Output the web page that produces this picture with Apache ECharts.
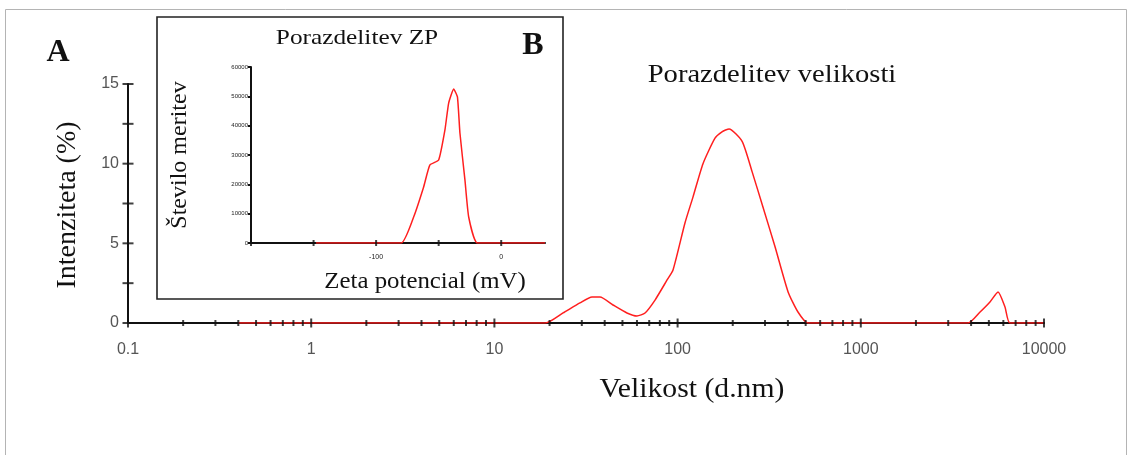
<!DOCTYPE html>
<html>
<head>
<meta charset="utf-8">
<script src="https://cdn.jsdelivr.net/npm/echarts@6/dist/echarts.min.js"></script>
<style>
  html, body { margin: 0; padding: 0; background: #ffffff; }
  #chart { width: 1132px; height: 455px; }
</style>
</head>
<body>
<div id="chart"></div>
<script>
// ---- Main chart (A): size distribution ----
const sizeNm = [0.4, 19, 23.7, 29.3, 34.1, 37.7, 44.4, 52.9, 60.0, 66.4, 75.3, 87.6, 94.4, 109.7, 121.3, 137.6, 160, 174.7, 191, 225, 255, 292, 340, 401, 454, 515, 3846, 4477, 5070, 5610, 6125, 6520, 10000];
const intensity = [0, 0, 0.63, 1.26, 1.63, 1.63, 1.13, 0.63, 0.44, 0.63, 1.44, 2.7, 3.33, 6.28, 7.9, 10.0, 11.6, 12.0, 12.18, 11.4, 9.5, 7.3, 4.8, 1.95, 0.69, 0, 0, 0.69, 1.32, 1.95, 1.0, 0, 0];
const mainXMajorTicks = [0.1, 1, 10, 100, 1000, 10000];
const mainXMinorTicks = [0.2, 0.3, 0.4, 0.5, 0.6, 0.7, 0.8, 0.9,
  2, 3, 4, 5, 6, 7, 8, 9,
  20, 30, 40, 50, 60, 70, 80, 90,
  200, 300, 400, 500, 600, 700, 800, 900,
  2000, 3000, 4000, 5000, 6000, 7000, 8000, 9000];
const mainYTicks = [0, 2.5, 5, 7.5, 10, 12.5, 15];

// ---- Inset chart (B): zeta potential distribution ----
const zetaMv = [-148, -80, -70, -62, -57, -50, -45, -42, -38, -35, -33, -29, -26, -19, 35];
const counts = [0, 0, 8860, 19100, 26600, 28300, 38500, 47700, 52500, 49800, 37500, 21500, 8860, 0, 0];
const insetXTicks = [-200, -150, -100, -50, 0];
const insetXLabels = [-100, 0];

const RED = '#ff1f1f';
const SERIF = '"Liberation Serif", "Times New Roman", serif';
const SANS = '"Liberation Sans", Arial, sans-serif';

function txt(text, x, y, size, opts) {
  opts = opts || {};
  return {
    type: 'text', x: x, y: y, z: 20,
    rotation: opts.rotation || 0,
    scaleX: opts.scaleX || 1,
    style: {
      text: text,
      font: (opts.bold ? 'bold ' : '') + size + 'px ' + SERIF,
      fill: '#111',
      align: 'center',
      verticalAlign: 'middle'
    }
  };
}

const chart = echarts.init(document.getElementById('chart'), null, { renderer: 'canvas' });
chart.setOption({
  animation: false,
  backgroundColor: '#ffffff',
  grid: [
    { left: 128, top: 84, width: 916, height: 239 },
    { left: 251, top: 67, width: 294, height: 176 }
  ],
  xAxis: [
    {
      type: 'log', logBase: 10, min: 0.1, max: 10000, gridIndex: 0,
      axisLine: { onZero: false, lineStyle: { color: '#111', width: 2 } },
      axisTick: { show: false }, minorTick: { show: false },
      splitLine: { show: false }, minorSplitLine: { show: false },
      axisLabel: {
        margin: 19, color: '#555', fontSize: 16, fontFamily: SANS,
        formatter: function (v) { return String(+Number(v).toPrecision(3)); }
      }
    },
    {
      type: 'value', min: -200, max: 35, interval: 50, gridIndex: 1,
      axisLine: { onZero: false, lineStyle: { color: '#111', width: 2 } },
      axisTick: { show: false }, splitLine: { show: false },
      axisLabel: {
        margin: 11, color: '#222', fontSize: 7, fontFamily: SANS,
        showMaxLabel: false,
        formatter: function (v) { return insetXLabels.indexOf(v) >= 0 ? String(v) : ''; }
      }
    }
  ],
  yAxis: [
    {
      type: 'value', min: 0, max: 15, interval: 2.5, gridIndex: 0,
      axisLine: { show: true, onZero: false, lineStyle: { color: '#111', width: 2 } },
      axisTick: { show: false }, splitLine: { show: false },
      axisLabel: {
        margin: 9, color: '#555', fontSize: 16, fontFamily: SANS,
        formatter: function (v) { return v % 5 === 0 ? String(v) : ''; }
      }
    },
    {
      type: 'value', min: 0, max: 60000, interval: 10000, gridIndex: 1,
      axisLine: { show: true, onZero: false, lineStyle: { color: '#111', width: 2 } },
      axisTick: { show: true, length: 3, lineStyle: { color: '#111', width: 2 } },
      splitLine: { show: false },
      axisLabel: {
        margin: 3, color: '#222', fontSize: 6, fontFamily: SANS,
        formatter: function (v) { return String(v); }
      }
    }
  ],
  series: [
    {
      type: 'line', xAxisIndex: 0, yAxisIndex: 0,
      data: sizeNm.map(function (s, i) { return [s, intensity[i]]; }),
      showSymbol: false, smooth: 0.2, z: 3,
      lineStyle: { color: RED, width: 1.5 }, silent: true
    },
    {
      type: 'line', xAxisIndex: 1, yAxisIndex: 1,
      data: zetaMv.map(function (z, i) { return [z, counts[i]]; }),
      showSymbol: false, smooth: 0.15, z: 3,
      lineStyle: { color: RED, width: 1.5 }, silent: true
    },
    {
      type: 'scatter', xAxisIndex: 0, yAxisIndex: 0, clip: false,
      data: mainXMajorTicks.map(function (v) { return [v, 0]; }),
      symbol: 'rect', symbolSize: [2, 9], itemStyle: { color: '#111' }, z: 6, silent: true
    },
    {
      type: 'scatter', xAxisIndex: 0, yAxisIndex: 0, clip: false,
      data: mainXMinorTicks.map(function (v) { return [v, 0]; }),
      symbol: 'rect', symbolSize: [2, 6], itemStyle: { color: '#111' }, z: 6, silent: true
    },
    {
      type: 'scatter', xAxisIndex: 0, yAxisIndex: 0, clip: false,
      data: mainYTicks.map(function (v) { return [0.1, v]; }),
      symbol: 'rect', symbolSize: [11, 2], itemStyle: { color: '#111' }, z: 6, silent: true
    },
    {
      type: 'scatter', xAxisIndex: 1, yAxisIndex: 1, clip: false,
      data: insetXTicks.map(function (v) { return [v, 0]; }),
      symbol: 'rect', symbolSize: [2, 6], itemStyle: { color: '#111' }, z: 6, silent: true
    }
  ],
  graphic: [
    { type: 'rect', z: 1, shape: { x: 5.5, y: 9.5, width: 1121, height: 470 },
      style: { fill: 'none', stroke: '#b4b4b4', lineWidth: 1 } },
    { type: 'rect', z: 1, shape: { x: 157, y: 17, width: 406, height: 282 },
      style: { fill: 'none', stroke: '#222', lineWidth: 1.6 } },
    txt('A', 58, 53, 32, { bold: true }),
    txt('B', 533, 46, 32, { bold: true }),
    txt('Porazdelitev velikosti', 772, 75, 26, { scaleX: 1.1 }),
    txt('Velikost (d.nm)', 692, 390, 27, { scaleX: 1.1 }),
    txt('Intenziteta (%)', 68, 205, 28, { rotation: Math.PI / 2 }),
    txt('Porazdelitev ZP', 357, 38, 22, { scaleX: 1.15 }),
    txt('Zeta potencial (mV)', 425, 282, 23, { scaleX: 1.08 }),
    txt('Število meritev', 180, 155, 24, { rotation: Math.PI / 2 })
  ]
});
</script>
</body>
</html>
